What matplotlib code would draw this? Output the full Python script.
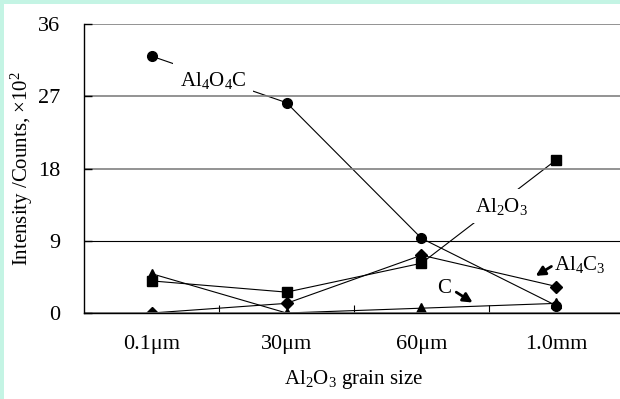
import matplotlib
matplotlib.use("Agg")
import matplotlib.pyplot as plt
from matplotlib.patches import Rectangle
from matplotlib.ticker import FixedLocator

plt.rcParams['font.family'] = ['Liberation Serif', 'DejaVu Serif']
plt.rcParams['mathtext.fontset'] = 'custom'
plt.rcParams['mathtext.rm'] = 'Liberation Serif'
plt.rcParams['mathtext.it'] = 'Liberation Serif:italic'
plt.rcParams['mathtext.bf'] = 'Liberation Serif:bold'

categories = ['0.1μm', '30μm', '60μm', '1.0mm']
al4o4c = [32.0, 26.2, 9.3, 0.9]
al2o3 = [4.0, 2.6, 6.2, 19.1]
al4c3 = [0.0, 1.2, 7.2, 3.3]
c_vals = [4.9, 0.0, 0.6, 1.2]
yticks = [0, 9, 18, 27, 36]

fig = plt.figure(figsize=(6.2, 3.99), dpi=100)
fig.patch.set_facecolor('white')
mint = '#c4f4e4'
fig.patches.append(Rectangle((0, 1 - 4/399), 1, 4/399, transform=fig.transFigure,
                             facecolor=mint, edgecolor='none', zorder=-10))
fig.patches.append(Rectangle((0, 0), 4/620, 1, transform=fig.transFigure,
                             facecolor=mint, edgecolor='none', zorder=-10))

ax = fig.add_axes([84/620, 86/399, 540/620, 289/399])
ax.set_facecolor('none')
x = list(range(len(categories)))

kw = dict(color='black', lw=0.8, markersize=7, zorder=3)
ax.plot(x, al4o4c, marker='o', **kw)
ax.plot(x, al2o3, marker='s', **kw)
ax.plot(x, al4c3, marker='D', markersize=5.8, color='black', lw=0.8, zorder=3)
ax.plot(x, c_vals, marker='^', **kw)

ax.set_xlim(-0.5, 3.5)
ax.set_ylim(0, 36)
ax.set_yticks(yticks)
ax.set_xticks(x)
ax.set_xticklabels(categories)
ax.xaxis.set_minor_locator(FixedLocator([0.5, 1.5, 2.5]))
ax.tick_params(axis='x', which='major', length=0, pad=16, labelsize=16)
ax.tick_params(axis='x', which='minor', length=6, direction='in', width=0.8)
ax.tick_params(axis='y', which='major', length=6, direction='in', width=1.0, pad=17, labelsize=16)

ax.grid(axis='y', color='#808080', lw=1.2)
gl = ax.get_ygridlines()
gl[1].set_color('black')
gl[1].set_linewidth(0.8)
# gridlines drawn above the label boxes, as in the reference
ax.yaxis.set_zorder(5)
ax.xaxis.set_zorder(5)

for s in ['top', 'right']:
    ax.spines[s].set_visible(False)
for s in ['left', 'bottom']:
    ax.spines[s].set_color('black')
    ax.spines[s].set_linewidth(1.0)
    ax.spines[s].set_zorder(6)

ax.set_xlabel(r'Al$_2$O$_3$ grain size', fontsize=15, labelpad=10)
ax.set_ylabel(r'Intensity /Counts, ×10$^2$', fontsize=15, labelpad=2)

box = dict(boxstyle='square,pad=0.3', facecolor='white', edgecolor='none')
ax.text(0.456, 29.0, r'Al$_4$O$_4$C', fontsize=15, ha='center', va='center', bbox=box, zorder=4)
ax.text(2.589, 13.3, r'Al$_2$O$_3$', fontsize=15, ha='center', va='center', bbox=box, zorder=4)
ax.text(3.175, 6.0, r'Al$_4$C$_3$', fontsize=15, ha='center', va='center', zorder=4)
ax.text(2.167, 3.0, 'C', fontsize=15, ha='center', va='center', zorder=4)

arrow = dict(arrowstyle='-|>,head_length=0.55,head_width=0.28', color='black', lw=2)
ax.annotate('', xy=(2.828, 4.45), xytext=(2.98, 5.98), arrowprops=arrow, zorder=4)
ax.annotate('', xy=(2.396, 1.12), xytext=(2.24, 2.78), arrowprops=arrow, zorder=4)

fig.savefig('out.png', dpi=100, facecolor=fig.get_facecolor())
